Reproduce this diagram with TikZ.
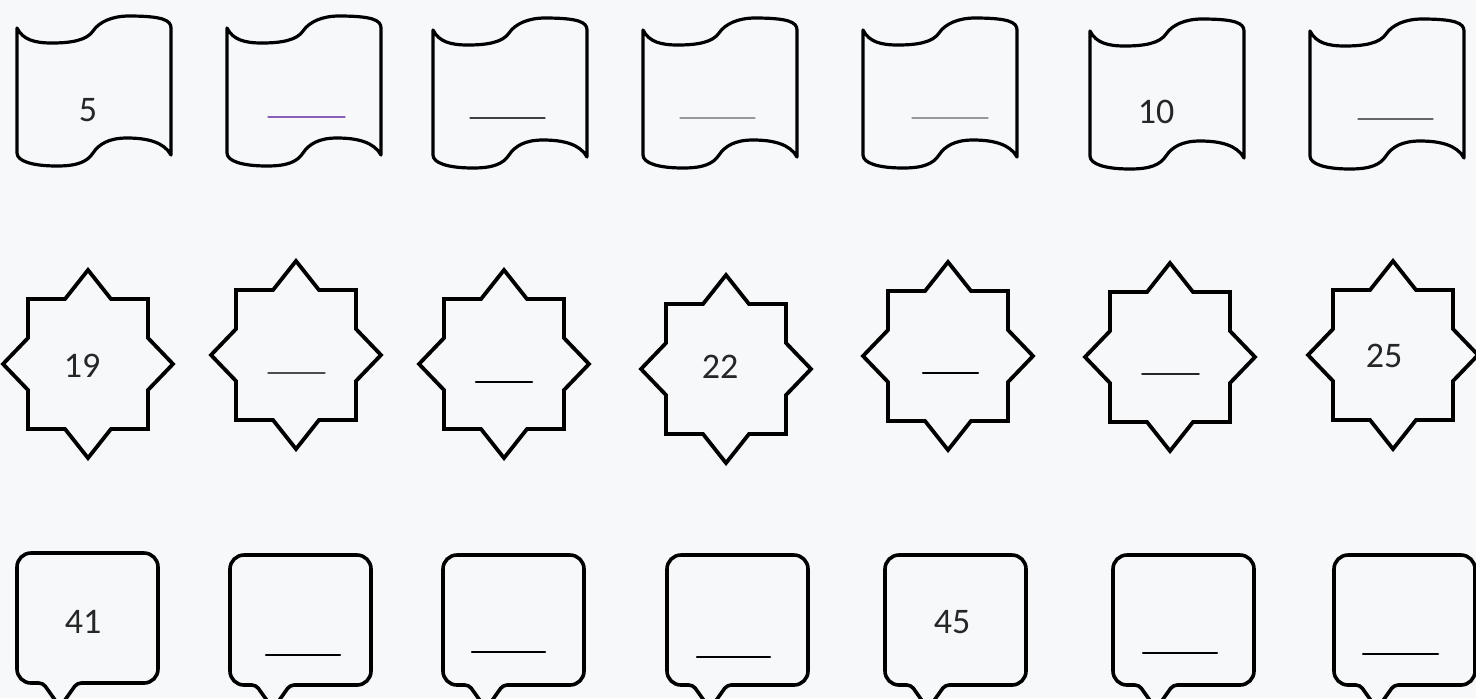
\documentclass[tikz,border=0pt]{standalone}
\usepackage{fontspec}
\setmainfont{Carlito}
\definecolor{paper}{RGB}{246,248,250}
\definecolor{violetline}{RGB}{140,95,185}
\tikzset{
  outline/.style={draw=black, line width=1.6pt, line join=round},
  num/.style={font=\fontsize{18}{20}\selectfont, text=black!85, inner sep=0pt},
  blank/.style={line width=0.6pt, draw=black!60},
  % flag, origin at the top of its left side
  flag/.pic={
    \draw[outline] (0,0) .. controls (6,12) and (18,15) .. (35,15)
      .. controls (55,15) and (70,12) .. (76,3)
      .. controls (82,-6) and (95,-12) .. (112,-12)
      .. controls (145,-12) and (154,-8) .. (154,0) -- (154,127)
      .. controls (147,114) and (130,110) .. (110,110)
      .. controls (92,110) and (82,116) .. (76,125)
      .. controls (70,134) and (60,138) .. (40,138)
      .. controls (15,138) and (0,133) .. (0,125) -- cycle;
  },
  % eight pointed star, origin at its centre
  star8/.pic={
    \draw[outline, line width=1.9pt, line join=miter] (-60,-65) -- (-23,-65) -- (0,-94) -- (23,-65) -- (60,-65)
      -- (60,-26) -- (85,0) -- (60,26) -- (60,65) -- (23,65) -- (0,94)
      -- (-23,65) -- (-60,65) -- (-60,26) -- (-85,0) -- (-60,-26) -- cycle;
  },
  % speech bubble, origin at its top left corner
  bubble/.pic={
    \draw[outline, line width=1.8pt, rounded corners=7pt] (0,65) -- (0,0) -- (141,0) -- (141,130)
      [rounded corners=2pt] -- (60,130) -- (43,154) -- (26,130) [rounded corners=7pt] -- (0,130) -- cycle;
  }
}
\begin{document}
\begin{tikzpicture}[x=0.5pt, y=-0.5pt, line cap=round]
  \fill[paper] (0,0) rectangle (1476,698);
  \useasboundingbox (0,0) rectangle (1476,698);
  \clip (0,0) rectangle (1476,698);

  % flags
  \pic at (17,28) {flag};
  \pic at (227,28) {flag};
  \pic at (433,30) {flag};
  \pic at (643,30) {flag};
  \pic at (863,30) {flag};
  \pic at (1090,31) {flag};
  \pic at (1310,31) {flag};
  \node[num] (f1) at (88,110) {5};
  \node[num] (f6) at (1156,112) {10};
  \draw[blank, draw=violetline] (268,117) -- (345,117);
  \draw[blank, draw=black!75] (470,118) -- (545,118);
  \draw[blank, draw=black!40] (680,118) -- (755,118);
  \draw[blank, draw=black!40] (912,118) -- (988,118);
  \draw[blank] (1358,119) -- (1433,119);

  % stars
  \pic at (88,364) {star8};
  \pic at (296,355) {star8};
  \pic at (504,364) {star8};
  \pic at (726,369) {star8};
  \pic at (948,356) {star8};
  \pic at (1170,357) {star8};
  \pic at (1393,355) {star8};
  \node[num] (s1) at (82,366) {19};
  \node[num] (s4) at (720,367) {22};
  \node[num] (s7) at (1384,356) {25};
  \draw[blank, draw=black!70] (268,373) -- (325,373);
  \draw[blank, line width=1.2pt, draw=black] (476,382) -- (532,382);
  \draw[blank, line width=1.2pt, draw=black] (923,373) -- (978,373);
  \draw[blank, line width=0.9pt, draw=black!85] (1142,374) -- (1199,374);

  % bubbles
  \pic at (17,553) {bubble};
  \pic at (230,555) {bubble};
  \pic at (443,555) {bubble};
  \pic at (667,555) {bubble};
  \pic at (885,555) {bubble};
  \pic at (1113,555) {bubble};
  \pic at (1334,555) {bubble};
  \node[num] (b1) at (83,622) {41};
  \node[num] (b5) at (952,622) {45};
  \draw[blank, line width=1.1pt, draw=black] (266,655) -- (340,655);
  \draw[blank, line width=1.1pt, draw=black] (472,652) -- (545,652);
  \draw[blank, line width=1.1pt, draw=black] (697,657) -- (770,657);
  \draw[blank, line width=1.1pt, draw=black] (1143,653) -- (1217,653);
  \draw[blank, line width=1.1pt, draw=black] (1363,654) -- (1438,654);
\end{tikzpicture}
\end{document}
